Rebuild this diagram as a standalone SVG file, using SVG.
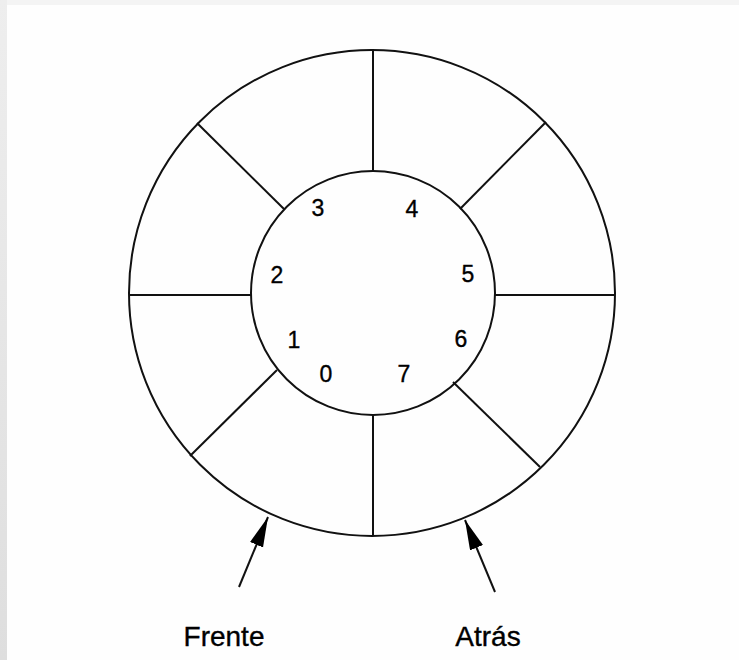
<svg xmlns="http://www.w3.org/2000/svg" width="739" height="660" viewBox="0 0 739 660">
  <defs>
    <linearGradient id="frame" x1="0" y1="0" x2="0" y2="1">
      <stop offset="0" stop-color="#eeeeee"/>
      <stop offset="1" stop-color="#dedede"/>
    </linearGradient>
    <marker id="head" markerUnits="userSpaceOnUse" markerWidth="32" markerHeight="16" refX="30" refY="7" orient="auto" viewBox="0 0 32 16">
      <path d="M0,0 L30,7 L0,14 z" fill="#000"/>
    </marker>
    <style>
      .ln { stroke: #111; stroke-width: 2; fill: none; }
      .num { font-family: "Liberation Sans", Arial, sans-serif; font-size: 23px; fill: #000; stroke: #000; stroke-width: 0.35; text-anchor: middle; }
      .lbl { font-family: "Liberation Sans", Arial, sans-serif; font-size: 28px; fill: #000; stroke: #000; stroke-width: 0.35; text-anchor: middle; }
    </style>
  </defs>
  <rect x="0" y="0" width="739" height="660" fill="url(#frame)"/>
  <rect x="7" y="0" width="732" height="5" fill="#f4f4f4"/>
  <rect x="7" y="5" width="732" height="655" fill="#fefefe"/>

  <g id="ring">
    <circle class="ln" cx="372" cy="293" r="243"/>
    <circle class="ln" cx="373" cy="293" r="122"/>
  </g>
  <g id="dividers">
    <line class="ln" x1="373" y1="50" x2="373" y2="171"/>
    <line class="ln" x1="373" y1="415" x2="373" y2="536"/>
    <line class="ln" x1="130" y1="295" x2="251" y2="295"/>
    <line class="ln" x1="495" y1="295" x2="615" y2="295"/>
    <line class="ln" x1="197" y1="123" x2="284" y2="209"/>
    <line class="ln" x1="546" y1="122" x2="460" y2="209"/>
    <line class="ln" x1="190" y1="456" x2="277" y2="370"/>
    <line class="ln" x1="540" y1="467" x2="453" y2="382"/>
  </g>
  <g id="indices">
    <text class="num" x="318" y="216">3</text>
    <text class="num" x="412" y="217">4</text>
    <text class="num" x="277" y="283">2</text>
    <text class="num" x="468" y="282">5</text>
    <text class="num" x="294" y="348">1</text>
    <text class="num" x="461" y="347">6</text>
    <text class="num" x="326" y="382">0</text>
    <text class="num" x="404" y="382">7</text>
  </g>
  <g id="connectors">
    <line class="ln" x1="239" y1="587" x2="268" y2="517" marker-end="url(#head)"/>
    <line class="ln" x1="495" y1="592" x2="465" y2="520" marker-end="url(#head)"/>
  </g>
  <g id="frente">
    <text class="lbl" x="224" y="646">Frente</text>
  </g>
  <g id="atras">
    <text class="lbl" x="488" y="646">Atrás</text>
  </g>
</svg>
